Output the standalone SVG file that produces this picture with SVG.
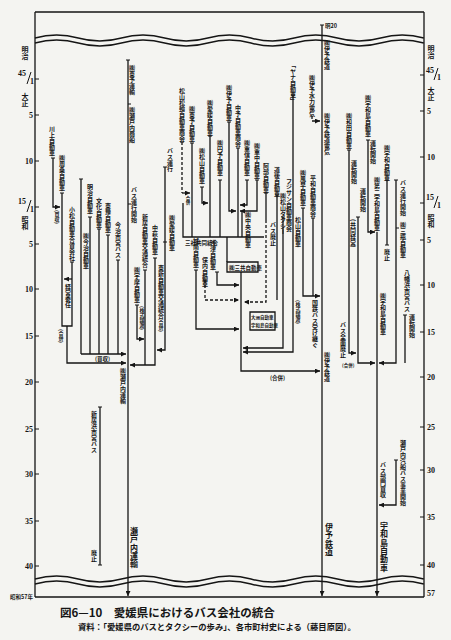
<svg xmlns="http://www.w3.org/2000/svg" width="451" height="640" viewBox="0 0 451 640">
<defs>
<marker id="ar" viewBox="0 0 6 6" refX="6" refY="3" markerWidth="5" markerHeight="5" orient="auto" markerUnits="userSpaceOnUse"><path d="M0,0 L6,3 L0,6 Z" fill="#151515"/></marker>
</defs>
<style>
.ln{stroke:#151515;stroke-width:1.3;fill:none}
.fr{stroke:#151515;stroke-width:1.3;fill:none}
.ds{stroke-dasharray:3 2}
.tk{stroke:#151515;stroke-width:1;fill:none}
.v{font-family:"Noto Sans CJK JP","Noto Sans CJK SC",sans-serif;font-size:6px;font-weight:bold;fill:#151515;writing-mode:vertical-rl}
.h{font-family:"Noto Sans CJK JP",sans-serif;font-size:5.5px;font-weight:bold;fill:#151515}
.big{font-family:"Noto Sans CJK JP",sans-serif;font-size:8px;font-weight:bold;fill:#151515;writing-mode:vertical-rl;letter-spacing:0.3px}
.ax{font-family:"Liberation Serif",serif;font-size:8px;font-weight:bold;fill:#151515}
.era{font-family:"Noto Sans CJK JP",sans-serif;font-size:7px;font-weight:bold;fill:#151515;writing-mode:vertical-rl}
.ttl{font-family:"Noto Sans CJK JP",sans-serif;font-size:11.5px;font-weight:bold;fill:#151515}
.src{font-family:"Noto Sans CJK JP",sans-serif;font-size:8.3px;font-weight:bold;fill:#151515}
</style>
<rect width="451" height="640" fill="#f4f4f1"/>

<g id="frame">
<path class="fr" d="M35,12 H424 M35,12 V597 M424,12 V597 M35,597 H424"/>
<path class="fr" d="M35,38 q21.6,-6 43.2,0 t43.2,0 t43.2,0 t43.2,0 t43.2,0 t43.2,0 t43.2,0 t43.2,0 t43.2,0"/>
<path class="fr" d="M35,43 q21.6,-6 43.2,0 t43.2,0 t43.2,0 t43.2,0 t43.2,0 t43.2,0 t43.2,0 t43.2,0 t43.2,0"/>
<path class="fr" d="M35,579 q21.6,-6 43.2,0 t43.2,0 t43.2,0 t43.2,0 t43.2,0 t43.2,0 t43.2,0 t43.2,0 t43.2,0"/>
<path class="fr" d="M35,584 q21.6,-6 43.2,0 t43.2,0 t43.2,0 t43.2,0 t43.2,0 t43.2,0 t43.2,0 t43.2,0 t43.2,0"/>
</g>

<g id="axis-left">
<path class="tk" d="M35,79 H39 M35,115 H39 M35,161 H39 M35,207 H39 M35,244 H39 M35,289 H39 M35,336 H39 M35,382 H39 M35,429 H39 M35,474 H39 M35,521 H39 M35,566 H39"/>
<text class="era" x="25" y="46">明治</text>
<text class="ax" x="18" y="76">45</text><path class="tk" d="M27,84 L31,72"/><text class="ax" x="30" y="84">1</text>
<text class="era" x="25" y="93">大正</text>
<text class="ax" x="33" y="118" text-anchor="end">5</text>
<text class="ax" x="33" y="164" text-anchor="end">10</text>
<text class="ax" x="18" y="204">15</text><path class="tk" d="M27,212 L31,200"/><text class="ax" x="30" y="212">1</text>
<text class="era" x="25" y="216">昭和</text>
<text class="ax" x="33" y="247" text-anchor="end">5</text>
<text class="ax" x="33" y="292" text-anchor="end">10</text>
<text class="ax" x="33" y="339" text-anchor="end">15</text>
<text class="ax" x="33" y="385" text-anchor="end">20</text>
<text class="ax" x="33" y="432" text-anchor="end">25</text>
<text class="ax" x="33" y="477" text-anchor="end">30</text>
<text class="ax" x="33" y="524" text-anchor="end">35</text>
<text class="ax" x="33" y="569" text-anchor="end">40</text>
<text class="h" x="33" y="599" text-anchor="end">昭和57年</text>
</g>

<g id="axis-right">
<path class="tk" d="M420,75 H424 M420,111 H424 M420,157 H424 M420,203 H424 M420,240 H424 M420,285 H424 M420,332 H424 M420,377 H424 M420,427 H424 M420,470 H424 M420,517 H424 M420,565 H424"/>
<text class="era" x="431" y="45">明治</text>
<text class="ax" x="426" y="73">45</text><path class="tk" d="M434,80 L438,68"/><text class="ax" x="437" y="80">1</text>
<text class="era" x="431" y="87">大正</text>
<text class="ax" x="427" y="114">5</text>
<text class="ax" x="427" y="160">10</text>
<text class="ax" x="426" y="200">15</text><path class="tk" d="M434,208 L438,196"/><text class="ax" x="437" y="208">1</text>
<text class="era" x="431" y="214">昭和</text>
<text class="ax" x="427" y="243">5</text>
<text class="ax" x="427" y="288">10</text>
<text class="ax" x="427" y="335">15</text>
<text class="ax" x="427" y="380">20</text>
<text class="ax" x="427" y="430">25</text>
<text class="ax" x="427" y="473">30</text>
<text class="ax" x="427" y="520">35</text>
<text class="ax" x="427" y="568">40</text>
<text class="ax" x="427" y="596">57</text>
</g>

<g id="connectors">
<path class="ln" d="M53,158 V207 H60" marker-end="url(#ar)"/>
<path class="ln" d="M62,193 V326 H72 V262"/>
<path class="ln" d="M67,326 V363 H126" marker-end="url(#ar)"/>
<path class="ln" d="M72,279 H64" marker-end="url(#ar)"/>
<path class="ln" d="M81,179 V354 M90,217 V354 M99,229 V354 M108,235 V354 M118,260 V354"/>
<path class="ln" d="M81,354 H126" marker-end="url(#ar)"/>
<path class="tk" d="M51,158 H55 M60,193 H64 M70,262 H74 M79,179 H83 M88,217 H92 M97,229 H101 M106,235 H110 M116,260 H120"/>
<path class="ln" d="M128,60 V596" marker-end="url(#ar)"/>
<path class="tk" d="M126,60 H130 M128,104 H131 M128,204 H131"/>
<path class="ln" d="M137,305 V339 H144" marker-end="url(#ar)"/>
<path class="ln" d="M145,270 V365"/>
<path class="ln" d="M155,258 V365 H130" marker-end="url(#ar)"/>
<path class="ln" d="M165,167 V350 H157" marker-end="url(#ar)"/>
<path class="tk" d="M135,305 H139 M143,270 H147 M153,258 H157 M163,167 H167 M163,242 H167"/>
<path class="ln" d="M100,407 V565"/>
<path class="tk" d="M98,407 H102 M98,565 H102"/>
<path class="ln ds" d="M182,142 V193"/>
<path class="ln" d="M182,193 H190" marker-end="url(#ar)"/>
<path class="ln" d="M192,143 V237"/>
<path class="ln" d="M202,187 V203 H208" marker-end="url(#ar)"/>
<path class="ln" d="M210,136 V237"/>
<path class="ln" d="M220,180 V237"/>
<path class="ln" d="M229,122 V211 H236" marker-end="url(#ar)"/>
<path class="ln" d="M238,148 V237"/>
<path class="ln" d="M247,180 V205 H240" marker-end="url(#ar)"/>
<path class="ln" d="M257,180 V211 H240" marker-end="url(#ar)"/>
<path class="ln" d="M183,203 V237 H264"/>
<path class="ln" d="M242,211 V237"/>
<path class="ln" d="M227,237 V262"/>
<path class="ln" d="M227,262 H258 V272 H227 Z"/>
<path class="ln" d="M241,272 V371 H320" marker-end="url(#ar)"/>
<path class="ln" d="M196,270 V329 H239" marker-end="url(#ar)"/>
<path class="ln ds" d="M205,280 V300 H239" marker-end="url(#ar)"/>
<path class="ln" d="M217,272 V285 H239" marker-end="url(#ar)"/>
<path class="ln" d="M266,193 V220"/>
<path class="ln ds" d="M266,220 V302 H244" marker-end="url(#ar)"/>
<path class="ln" d="M277,195 V300"/>
<path class="ln" d="M283,217 V348 H243" marker-end="url(#ar)"/>
<path class="ln" d="M293,95 V352 H243" marker-end="url(#ar)"/>
<path class="ln" d="M250,312 H275 V330 H250 Z"/>
<path class="tk" d="M180,142 H184 M190,143 H194 M200,187 H204 M208,136 H212 M218,180 H222 M227,122 H231 M236,148 H240 M245,180 H249 M255,180 H259 M194,270 H198 M203,280 H207 M215,272 H219 M264,193 H268 M275,195 H279 M281,217 H285 M291,95 H295"/>
<path class="ln" d="M322,25 V596" marker-end="url(#ar)"/>
<path class="tk" d="M320,25 H324"/>
<path class="ln ds" d="M312,116 V121 H320" marker-end="url(#ar)"/>
<path class="ln" d="M303,208 V296 H320" marker-end="url(#ar)"/>
<path class="ln" d="M313,218 V296"/>
<path class="tk" d="M301,208 H305 M311,218 H315"/>
<path class="ln" d="M349,150 V353 H356" marker-end="url(#ar)"/>
<path class="ln" d="M358,217 V363 H375" marker-end="url(#ar)"/>
<path class="ln" d="M368,140 V232 H375" marker-end="url(#ar)"/>
<path class="ln" d="M377,232 V596" marker-end="url(#ar)"/>
<path class="ln" d="M387,180 V245"/>
<path class="ln" d="M396,180 V363 H379" marker-end="url(#ar)"/>
<path class="ln" d="M405,315 V363"/>
<path class="ln" d="M396,460 V505 H379" marker-end="url(#ar)"/>
<path class="tk" d="M347,150 H351 M356,217 H360 M366,140 H370 M385,180 H389 M385,245 H389 M394,180 H398 M396,228 H399 M403,315 H407 M394,460 H398"/>
</g>

<g id="n-kawakami"><text class="v" x="52" y="126">川上自動車</text></g>
<g id="n-shuso"><text class="v" x="62" y="155">㈱周桑自動車</text></g>
<g id="n-baishu1"><text class="v" x="57" y="210" style="font-size:5px">(買収)</text></g>
<g id="n-komatsu"><text class="v" x="72" y="207">小松自動車合資会社</text></g>
<g id="n-keiei"><text class="v" x="68" y="284">経営委任</text></g>
<g id="n-gappei1"><text class="v" x="61" y="329" style="font-size:5px">(合併)</text></g>
<g id="n-imabari"><text class="v" x="86" y="233">㈱今治自動車</text></g>
<g id="n-meiji"><text class="v" x="90" y="184">明治自動車</text></g>
<g id="n-bunka"><text class="v" x="99" y="198">文化自動車</text></g>
<g id="n-toyo"><text class="v" x="108" y="203">東豫自動車</text></g>
<g id="n-imabari-shiei"><text class="v" x="118" y="222">今治市営バス</text></g>
<g id="n-baishu2"><text class="h" x="95" y="361">(買収)</text></g>
<g id="n-toyounyu"><text class="v" x="132" y="65">㈱東予運輸</text></g>
<g id="n-setoshosen"><text class="v" x="132" y="107">㈱瀬戸内商船</text></g>
<g id="n-busstart1"><text class="v" x="134" y="187">バス運行開始</text></g>
<g id="n-setounyu"><text class="v" x="123" y="368">㈱瀬戸内運輸</text></g>
<g id="n-setounyu-big"><text class="big" x="134" y="527">瀬戸内運輸</text></g>
<g id="n-nii"><text class="v" x="145" y="214">新居自動車交通統合</text></g>
<g id="n-uma"><text class="v" x="137" y="267">㈱宇摩自動車</text></g>
<g id="n-joto1"><text class="v" x="142" y="306" style="font-size:5px">(株式譲渡)</text></g>
<g id="n-nakahagi"><text class="v" x="155" y="225">中萩自動車</text></g>
<g id="n-toshin"><text class="v" x="161" y="265">東新自動車交通統合</text></g>
<g id="n-busunko"><text class="v" x="170" y="148">バス運行</text></g>
<g id="n-ehime2"><text class="v" x="172" y="215">㈱愛媛自動車</text></g>
<g id="n-gappei-nii"><text class="v" x="161" y="318" style="font-size:5px">(合併)</text></g>
<g id="n-niihama-shiei"><text class="v" x="94" y="411">新居浜市営バス</text></g>
<g id="n-haishi1"><text class="v" x="94" y="550">廃止</text></g>

<g id="n-matsuyama-shokai"><text class="v" x="182" y="88">松山松輪自動車商会</text></g>
<g id="n-toyo2"><text class="v" x="192" y="106">㈱東予自動車</text></g>
<g id="n-gappei2"><text class="v" x="188" y="196" style="font-size:4.5px">合併</text></g>
<g id="n-ehime"><text class="v" x="210" y="100">㈱愛媛自動車</text></g>
<g id="n-iyo"><text class="v" x="229" y="85">㈱伊予自動車</text></g>
<g id="n-chuyo"><text class="v" x="238" y="105">中予自動車商会</text></g>
<g id="n-enyo"><text class="v" x="220" y="140">㈱円予自動車</text></g>
<g id="n-matsu"><text class="v" x="202" y="148">㈱松山自動車</text></g>
<g id="n-shigekawa"><text class="v" x="247" y="140">㈱重信自動車</text></g>
<g id="n-shigenaka"><text class="v" x="257" y="143">㈱重中自動車</text></g>
<g id="n-yana"><text class="v" x="293" y="62">「ヤナ自動車」</text></g>
<g id="n-jonan"><text class="v" x="196" y="238">城南自動車</text></g>
<g id="n-honai"><text class="v" x="205" y="257">保内自動車</text></g>
<g id="n-asazu"><text class="v" x="213" y="240">浅津自動車</text></g>
<g id="n-sansha"><text class="h" x="185" y="245">三社共同統合</text></g>
<g id="n-sankyo"><text class="h" x="229" y="269.5">㈱三共自動車</text></g>
<g id="n-chuo"><text class="v" x="248" y="212">㈱中央自動車</text></g>
<g id="n-abe"><text class="v" x="266" y="163">阿部自動車</text></g>
<g id="n-bushaishi"><text class="v" x="273" y="222">バス廃止</text></g>
<g id="n-dogo"><text class="v" x="277" y="167">道後自動車</text></g>
<g id="n-taxi"><text class="v" x="283" y="193">㈱松山タクシー</text></g>
<g id="n-fujisan"><text class="v" x="289" y="178">フジサン自動車商会</text></g>
<g id="n-matsuyama"><text class="v" x="298" y="217">松山自動車</text></g>
<g id="n-ozu"><text class="h" x="251" y="319" style="font-size:4.5px">大洲自動車</text><text class="h" x="251" y="327" style="font-size:4.5px">宇和島自動車</text></g>
<g id="n-joto2"><text class="v" x="298" y="300" style="font-size:5px">(株式譲渡)</text></g>
<g id="n-gappei3"><text class="h" x="270" y="380">(合併)</text></g>

<g id="n-iyotetsu"><text class="v" x="327" y="40">㈱伊予鉄道</text></g>
<g id="n-meiji20"><text class="h" x="325" y="28">明20</text></g>
<g id="n-suiryoku"><text class="v" x="312" y="75">㈱伊予水力電気</text></g>
<g id="n-tetsudodenki"><text class="v" x="327" y="113">㈱伊予鉄道電気</text></g>
<g id="n-kazahaya"><text class="v" x="303" y="170">㈱風早自動車</text></g>
<g id="n-heiwa"><text class="v" x="313" y="175">平和自動車商会</text></g>
<g id="n-kokutetsu"><text class="v" x="315" y="300">国鉄バス受け継ぐ</text></g>
<g id="n-iyotetsu2"><text class="v" x="327" y="352">㈱伊予鉄道</text></g>
<g id="n-iyotetsu-big"><text class="big" x="329" y="523">伊予鉄道</text></g>

<g id="n-wada"><text class="v" x="349" y="113">㈱和田自動車</text></g>
<g id="n-uwajima1"><text class="v" x="368" y="95">㈱宇和島自動車</text></g>
<g id="n-unten1"><text class="v" x="373" y="140">運転開始</text></g>
<g id="n-unten2"><text class="v" x="354" y="160">運転開始</text></g>
<g id="n-kyodo"><text class="v" x="353" y="219">(共同経営)</text></g>
<g id="n-unten3"><text class="v" x="363" y="188">運転開始</text></g>
<g id="n-daini"><text class="v" x="377" y="177">㈱第二宇和島自動車</text></g>
<g id="n-uwa"><text class="v" x="387" y="145">㈱宇和自動車</text></g>
<g id="n-haishi2"><text class="v" x="387" y="249">廃止</text></g>
<g id="n-busstart2"><text class="v" x="403" y="180">バス運行開始</text></g>
<g id="n-mikame"><text class="v" x="403" y="222">㈱三瓶自動車</text></g>
<g id="n-yawatahama"><text class="v" x="407" y="270">八幡浜市営バス</text></g>
<g id="n-unten4"><text class="v" x="412" y="314">運転開始</text></g>
<g id="n-uwajima2"><text class="v" x="383" y="293">㈱宇和島自動車</text></g>
<g id="n-zenmen"><text class="v" x="343" y="322">バス全面廃止</text></g>
<g id="n-gappei4"><text class="h" x="342" y="367" style="font-size:4.5px">(合併)</text></g>
<g id="n-setokisen"><text class="v" x="403" y="440">瀬戸内汽船バス事業開始</text></g>
<g id="n-bumon"><text class="v" x="383" y="462">バス部門買収</text></g>
<g id="n-uwajima-big"><text class="big" x="384" y="522">宇和島自動車</text></g>

<g id="caption">
<text class="ttl" x="60" y="617">図6—10　愛媛県におけるバス会社の統合</text>
<text class="src" x="78" y="630">資料：「愛媛県のバスとタクシーの歩み」、各市町村史による（藤目原図）。</text>
</g>
</svg>
